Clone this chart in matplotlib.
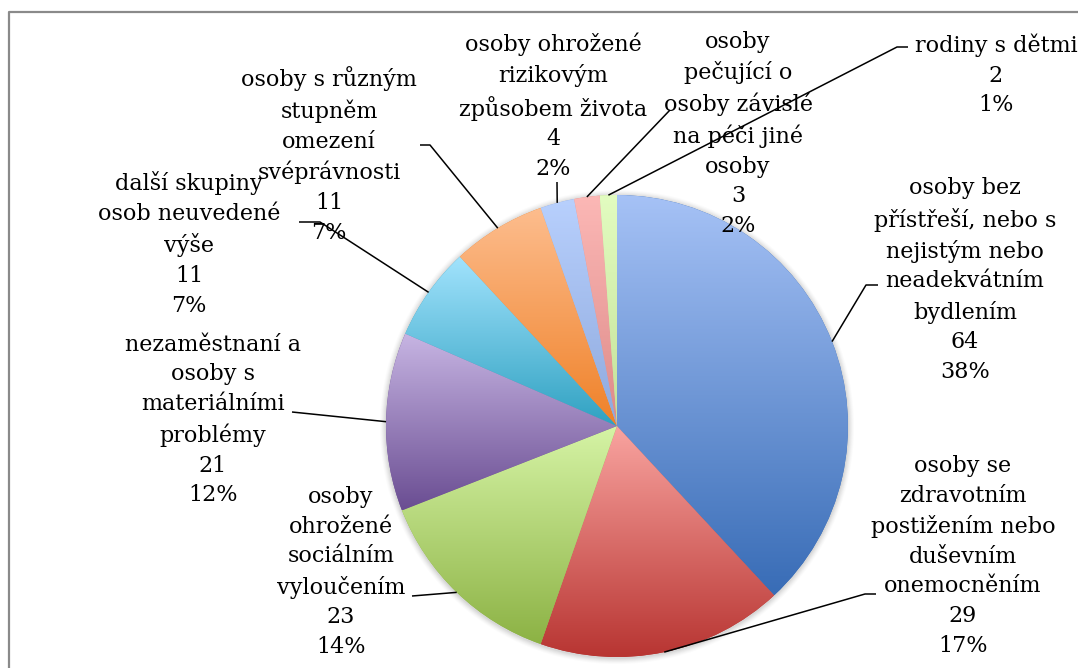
import numpy as np
import matplotlib
matplotlib.use('Agg')
import matplotlib.pyplot as plt
from matplotlib.colors import LinearSegmentedColormap
from matplotlib.patches import Circle

# ---- data ----
categories = [
    "osoby bez\npřístřeší, nebo s\nnejistým nebo\nneadekvátním\nbydlením",
    "osoby se\nzdravotním\npostižením nebo\nduševním\nonemocněním",
    "osoby\nohrožené\nsociálním\nvyloučením",
    "nezaměstnaní a\nosoby s\nmateriálními\nproblémy",
    "další skupiny\nosob neuvedené\nvýše",
    "osoby s různým\nstupněm\nomezení\nsvéprávnosti",
    "osoby ohrožené\nrizikovým\nzpůsobem života",
    "osoby\npečující o\nosoby závislé\nna péči jiné\nosoby",
    "rodiny s dětmi",
]
values = [64, 29, 23, 21, 11, 11, 4, 3, 2]

# ---- style ----
colors_top = ["#a6c2f6", "#f9a4a0", "#d6f4a6", "#c7b5e3", "#a2e3fd",
              "#fdbd8e", "#b8d0fd", "#fcb8b6", "#e2fcc0"]
colors_bottom = ["#386cb6", "#b83532", "#8cb244", "#6a4d92", "#2fa1c1",
                 "#ef8128", "#8ea9dd", "#dd8a88", "#c4e199"]

W, H = 1078, 668
fig = plt.figure(figsize=(W / 100, H / 100), dpi=100)
ax = fig.add_axes([0, 0, 1, 1])


def Y(y):
    return H - y


cx, cy, R = 617, Y(426), 231

# soft shadow
for d, a in [(6, 0.03), (5, 0.04), (4, 0.05), (3, 0.06), (2, 0.07), (1, 0.09)]:
    ax.add_patch(Circle((cx, cy - 1), R + d, facecolor='#808080', alpha=a,
                        lw=0, zorder=0))

wedges, _ = ax.pie(values, startangle=90, counterclock=False,
                   center=(cx, cy), radius=R, colors=colors_bottom,
                   frame=True, wedgeprops=dict(linewidth=0))

grad = np.linspace(0, 1, 256).reshape(-1, 1)
for w, ct, cb in zip(wedges, colors_top, colors_bottom):
    w.set_zorder(1)
    ext = w.get_path().get_extents()
    cmap = LinearSegmentedColormap.from_list('g', [cb, ct])
    im = ax.imshow(grad, cmap=cmap, origin='lower',
                   extent=[ext.x0, ext.x1, ext.y0, ext.y1], aspect='auto',
                   zorder=2, interpolation='bilinear')
    im.set_clip_path(w)

# labels & leader lines
total = sum(values)
label_xy = [(965, 280), (963, 556), (341, 572), (213, 420), (189, 244),
            (329, 155), (553, 106), (738, 134), (996, 75)]
leaders = [
    [(866, 285), (878, 285)],
    [(865, 594), (876, 594)],
    [(412, 596)],
    [(292, 412)],
    [(320, 222), (299, 222)],
    [(430, 145), (420, 145)],
    [(557, 182)],
    [(670, 110)],
    [(897, 47), (908, 47)],
]

for w, cat, v, (lx, ly), pts in zip(wedges, categories, values, label_xy, leaders):
    pct = int(round(v / total * 100))
    ax.text(lx, Y(ly), f"{cat}\n{v}\n{pct}%", ha='center', va='center',
            multialignment='center', fontsize=16, family='DejaVu Serif',
            linespacing=1.45, color='black', zorder=5)
    th = np.deg2rad((w.theta1 + w.theta2) / 2)
    xs = [cx + R * np.cos(th)] + [p[0] for p in pts]
    ys = [cy + R * np.sin(th)] + [Y(p[1]) for p in pts]
    ax.plot(xs, ys, color='black', lw=1.1, zorder=4, solid_capstyle='butt')

# outer frame
ax.plot([9, 9, W + 5], [Y(H + 5), Y(12), Y(12)], color='#8a8a8a', lw=1.6,
        zorder=6)

ax.set_xlim(0, W)
ax.set_ylim(0, H)
ax.set_aspect('auto')
ax.axis('off')
fig.savefig('out.png', dpi=100)
